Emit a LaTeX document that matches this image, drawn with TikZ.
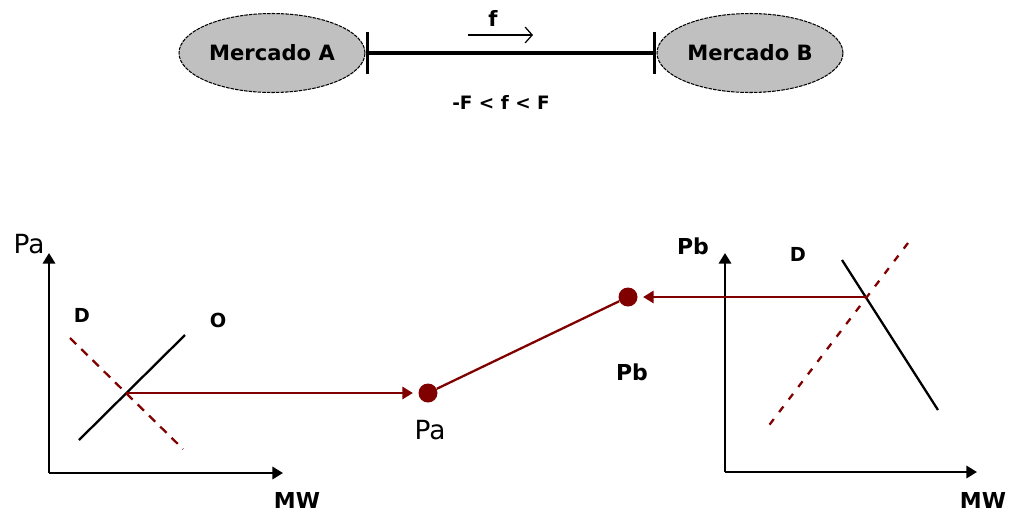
\documentclass[tikz,border=0pt]{standalone}
\usepackage{fontspec}
\setmainfont{DejaVu Sans}
\usepackage{tikz}
\usetikzlibrary{arrows.meta,shapes.geometric}
\definecolor{rojoOscuro}{HTML}{800000}
\definecolor{grisElipse}{HTML}{C0C0C0}

\begin{document}
\begin{tikzpicture}[x=0.02cm,y=-0.02cm,
  mercado/.style={ellipse,draw=black,line width=0.6pt,dash pattern=on 2pt off 0.6pt,fill=grisElipse,
    minimum width=3.72cm,minimum height=1.58cm,inner sep=0pt,font=\fontsize{12}{14}\selectfont\bfseries},
  punto/.style={circle,fill=rojoOscuro,minimum size=0.38cm,inner sep=0pt},
  eje/.style={line width=1.3pt,-{Triangle[length=6pt,width=7pt]}},
  flecha/.style={rojoOscuro,line width=1.3pt,-{Triangle[length=6pt,width=7pt]},shorten >=3pt},
  etiq/.style={font=\fontsize{12.5}{15}\selectfont\bfseries},
  etiqfina/.style={font=\fontsize{15}{17}\selectfont},
  chica/.style={font=\fontsize{11}{13}\selectfont\bfseries}]
\useasboundingbox (0,0) rectangle (1012,518);
% mercados y linea
\node[mercado] (mA) at (272,53) {Mercado A};
\node[mercado] (mB) at (750,53) {Mercado B};
\draw[line width=1.9pt,{Bar[width=24pt]}-{Bar[width=24pt]}] (mA) -- (mB);
\node[font=\fontsize{12}{14}\selectfont\bfseries] (flujo) at (493,18) {f};
\coordinate (fIni) at (468,35);
\coordinate (fFin) at (533,35);
\draw[line width=0.7pt,-{Straight Barb[length=4pt,width=9pt]}] (fIni) -- (fFin);
\node[font=\fontsize{10.5}{12}\selectfont\bfseries] (limite) at (501,102) {-F < f < F};
% mercado A
\draw[eje] (49,473) -- (49,253);
\draw[eje] (49,473) -- (283,473);
\node[etiqfina] (ejePa) at (29,244) {Pa};
\node[etiq] (ejeMWa) at (297,500) {MW};
\draw[line width=1.3pt] (79,440) -- (185,335);
\draw[rojoOscuro,line width=1.3pt,dash pattern=on 5pt off 4pt] (70,338) -- (183,449);
\node[chica] (dA) at (82,315) {D};
\node[chica] (oA) at (218,320) {O};
\coordinate (cruceA) at (126,393);
% mercado B
\draw[eje] (725,472) -- (725,253);
\draw[eje] (725,472) -- (977,472);
\node[etiq] (ejePb) at (693,246) {Pb};
\node[etiq] (ejeMWb) at (983,500) {MW};
\draw[line width=1.3pt] (842,260) -- (938,410);
\draw[rojoOscuro,line width=1.3pt,dash pattern=on 4pt off 5pt] (908,243) -- (767,428);
\node[chica] (dB) at (798,254) {D};
\coordinate (cruceB) at (867,297);
% precios
\node[punto] (pA) at (428,393) {};
\node[punto] (pB) at (628,297) {};
\node[etiqfina] (etPa) at (430,430) {Pa};
\node[etiq] (etPb) at (632,372) {Pb};
\draw[flecha] (cruceA) -- (pA);
\draw[flecha] (cruceB) -- (pB);
\draw[rojoOscuro,line width=1.3pt] (pA) -- (pB);
\end{tikzpicture}
\end{document}
